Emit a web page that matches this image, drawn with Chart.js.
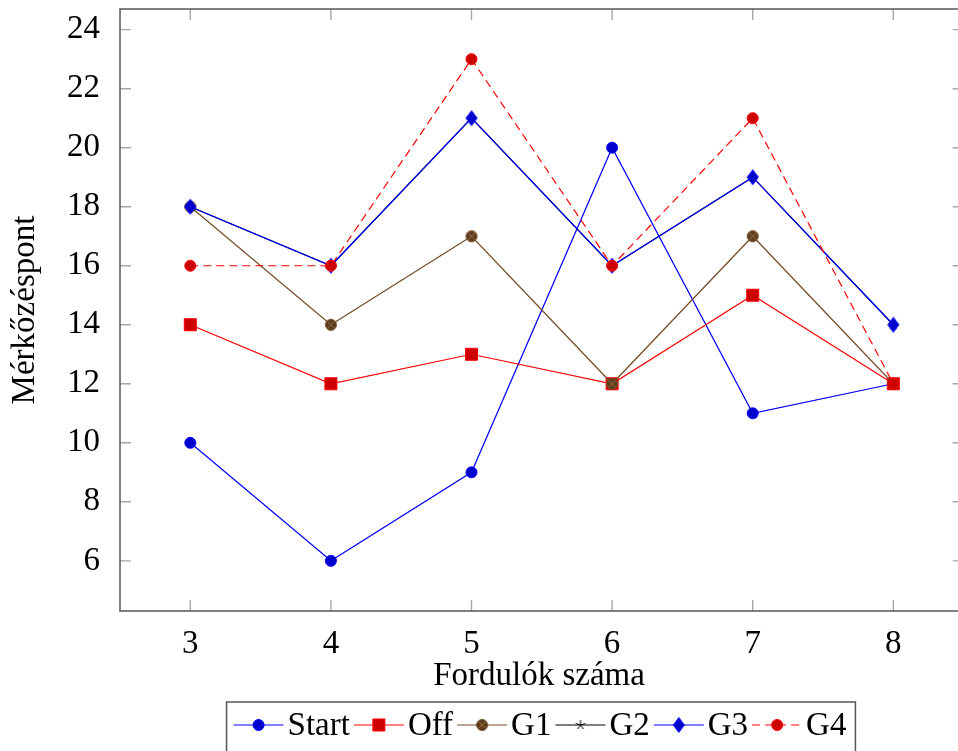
<!DOCTYPE html>
<html><head><meta charset="utf-8">
<script src="https://cdn.jsdelivr.net/npm/chart.js@4"></script>
<style>html,body{margin:0;padding:0;overflow:hidden;background:#fff}#wrap{width:958px;height:751px}#c{display:block}</style>
</head><body><div id="wrap"><canvas id="c" width="958" height="751"></canvas></div>
<script>
const rounds = [3, 4, 5, 6, 7, 8];
const startVals = [10, 6, 9, 20, 11, 12];
const offVals = [14, 12, 13, 12, 15, 12];
const g1Vals = [18, 14, 17, 12, 17, 12];
const g2Vals = [18, 16, 21, 16, 19, 14];
const g3Vals = [18, 16, 21, 16, 19, 14];
const g4Vals = [16, 16, 23, 16, 21, 12];
const seriesNames = ['Start', 'Off', 'G1', 'G2', 'G3', 'G4'];
const yTickVals = [6, 8, 10, 12, 14, 16, 18, 20, 22, 24];
const xTitle = 'Fordulók száma';
const yTitle = 'Mérkőzéspont';

const X_MIN = 2.5, X_AXIS_END = 8.5, X_VIEW_MAX = 8.46;
const Y_MIN = 4.3, Y_MAX = 24.7;

const FONT = 'Liberation Serif, Times New Roman, serif';
const FS = 33;

function mk(w, h, fn) { const c = document.createElement('canvas'); c.width = w; c.height = h; fn(c.getContext('2d'), w / 2, h / 2); return c; }
const otimes = mk(14, 14, (g, cx, cy) => {
  g.beginPath(); g.arc(cx, cy, 5.5, 0, Math.PI * 2); g.fillStyle = 'rgb(92,61,31)'; g.fill();
  g.lineWidth = 1; g.strokeStyle = 'rgb(150,105,60)';
  const d = 5.5 * Math.SQRT1_2;
  g.beginPath(); g.moveTo(cx - d, cy - d); g.lineTo(cx + d, cy + d); g.moveTo(cx + d, cy - d); g.lineTo(cx - d, cy + d); g.stroke();
  g.beginPath(); g.arc(cx, cy, 5.5, 0, Math.PI * 2); g.strokeStyle = 'rgb(115,77,38)'; g.stroke();
});
const star = mk(14, 14, (g, cx, cy) => {
  g.strokeStyle = '#000'; g.lineWidth = 1; g.beginPath();
  for (let i = 0; i < 5; i++) { const a = -Math.PI / 2 + i * 2 * Math.PI / 5; g.moveTo(cx, cy); g.lineTo(cx + 5 * Math.cos(a), cy + 5 * Math.sin(a)); }
  g.stroke();
});
const diamond = mk(14, 18, (g, cx, cy) => {
  g.beginPath(); g.moveTo(cx, cy - 7.5); g.lineTo(cx + 5.5, cy); g.lineTo(cx, cy + 7.5); g.lineTo(cx - 5.5, cy); g.closePath();
  g.fillStyle = '#0000cc'; g.fill(); g.strokeStyle = '#0000ff'; g.lineWidth = 1; g.stroke();
});

function pts(vals) { return rounds.map((r, i) => ({ x: r, y: vals[i] })); }

const datasets = [
  { label: seriesNames[0], data: pts(startVals), borderColor: '#0000ff', pointBackgroundColor: '#0000cc', pointBorderColor: '#0000ff', pointStyle: 'circle', pointRadius: 5.5, order: 6 },
  { label: seriesNames[1], data: pts(offVals), borderColor: '#ff0000', pointBackgroundColor: '#cc0000', pointBorderColor: '#ff0000', pointStyle: 'rect', pointRadius: 8.5, order: 5 },
  { label: seriesNames[2], data: pts(g1Vals), borderColor: 'rgb(115,77,38)', pointBackgroundColor: 'rgb(92,61,31)', pointBorderColor: 'rgb(115,77,38)', pointStyle: otimes, order: 4 },
  { label: seriesNames[3], data: pts(g2Vals), borderColor: '#000000', pointBackgroundColor: '#000', pointBorderColor: '#000', pointStyle: star, order: 3 },
  { label: seriesNames[4], data: pts(g3Vals), borderColor: '#0000ff', pointBackgroundColor: '#0000cc', pointBorderColor: '#0000ff', pointStyle: diamond, order: 2 },
  { label: seriesNames[5], data: pts(g4Vals), borderColor: '#ff0000', borderDash: [8, 5], pointBackgroundColor: '#cc0000', pointBorderColor: '#ff0000', pointStyle: 'circle', pointRadius: 5.5, order: 1 }
];
datasets.forEach(d => { d.borderWidth = 1.2; d.pointBorderWidth = 1; d.fill = false; d.tension = 0; d.clip = false; });

function drawMarker(ctx, ds, x, y) {
  const ps = ds.pointStyle;
  if (ps instanceof HTMLCanvasElement) { ctx.drawImage(ps, x - ps.width / 2, y - ps.height / 2); return; }
  ctx.save(); ctx.fillStyle = ds.pointBackgroundColor; ctx.strokeStyle = ds.pointBorderColor; ctx.lineWidth = 1; ctx.setLineDash([]);
  ctx.beginPath();
  if (ps === 'rect') { const s = ds.pointRadius * Math.SQRT1_2; ctx.rect(x - s, y - s, 2 * s, 2 * s); }
  else ctx.arc(x, y, ds.pointRadius, 0, Math.PI * 2);
  ctx.fill(); ctx.stroke(); ctx.restore();
}

const framePlugin = {
  id: 'frame',
  beforeDatasetsDraw(chart) {
    const { ctx, chartArea: a, scales: { x, y } } = chart;
    const right = x.getPixelForValue(X_AXIS_END);
    ctx.save(); ctx.strokeStyle = '#a8a8a8'; ctx.lineWidth = 1.4; ctx.beginPath();
    const L = 11;
    rounds.forEach(v => { const px = x.getPixelForValue(v); ctx.moveTo(px, a.bottom); ctx.lineTo(px, a.bottom - L); ctx.moveTo(px, a.top); ctx.lineTo(px, a.top + L); });
    yTickVals.forEach(v => { const py = y.getPixelForValue(v); ctx.moveTo(a.left, py); ctx.lineTo(a.left + L, py); ctx.moveTo(right, py); ctx.lineTo(right - L, py); });
    ctx.stroke(); ctx.restore();
  },
  afterDatasetsDraw(chart) {
    const { ctx, chartArea: a, scales: { x } } = chart;
    const right = x.getPixelForValue(X_AXIS_END);
    ctx.save(); ctx.strokeStyle = '#555'; ctx.lineWidth = 1.5; ctx.strokeRect(a.left, a.top, right - a.left, a.bottom - a.top); ctx.restore();
  }
};

const legendPlugin = {
  id: 'customLegend',
  afterDraw(chart) {
    const ctx = chart.ctx;
    ctx.save();
    ctx.font = FS + 'px ' + FONT;
    const seg = 50, gA = 4, gB = 4;
    const items = chart.data.datasets.map(ds => ({ ds, w: ctx.measureText(ds.label).width }));
    const total = items.reduce((s, it) => s + seg + gA + it.w + gB, 0);
    const cx = 542, cy = 725;
    const boxL = cx - total / 2 - 7, boxR = cx + total / 2 + 5;
    ctx.strokeStyle = '#555'; ctx.lineWidth = 1.5;
    ctx.strokeRect(boxL, 702, boxR - boxL, 60);
    let xp = cx - total / 2;
    ctx.textBaseline = 'middle'; ctx.textAlign = 'left'; ctx.fillStyle = '#000';
    items.forEach(it => {
      const ds = it.ds;
      ctx.save(); ctx.strokeStyle = ds.borderColor; ctx.lineWidth = ds.borderWidth; ctx.setLineDash(ds.borderDash || []);
      ctx.beginPath(); ctx.moveTo(xp, cy); ctx.lineTo(xp + seg, cy); ctx.stroke(); ctx.restore();
      drawMarker(ctx, ds, xp + seg / 2, cy);
      ctx.fillText(ds.label, xp + seg + gA, cy + 1);
      xp += seg + gA + it.w + gB;
    });
    ctx.restore();
  }
};

new Chart(document.getElementById('c'), {
  type: 'line',
  data: { datasets },
  plugins: [framePlugin, legendPlugin],
  options: {
    responsive: false, animation: false, events: [],
    layout: { autoPadding: false, padding: { left: 0, top: 9, right: 0, bottom: 0 } },
    plugins: { legend: { display: false }, tooltip: { enabled: false } },
    scales: {
      x: {
        type: 'linear', min: X_MIN, max: X_VIEW_MAX,
        afterBuildTicks: s => { s.ticks = rounds.map(v => ({ value: v })); },
        afterFit: s => { s.height = 140; s.paddingLeft = 0; s.paddingRight = 0; },
        grid: { display: false }, border: { display: false },
        ticks: { color: '#000', padding: 6, font: { family: FONT, size: FS }, maxRotation: 0, autoSkip: false },
        title: { display: true, text: xTitle, color: '#000', font: { family: FONT, size: FS }, padding: { top: 0, bottom: 55 } }
      },
      y: {
        type: 'linear', min: Y_MIN, max: Y_MAX,
        afterBuildTicks: s => { s.ticks = yTickVals.map(v => ({ value: v })); },
        afterFit: s => { s.width = 120; s.paddingTop = 0; s.paddingBottom = 0; },
        grid: { display: false }, border: { display: false },
        ticks: { color: '#000', padding: 12, font: { family: FONT, size: FS }, autoSkip: false },
        title: { display: true, text: yTitle, color: '#000', font: { family: FONT, size: FS }, padding: { top: 6, bottom: 0 } }
      }
    }
  }
});
</script></body></html>
